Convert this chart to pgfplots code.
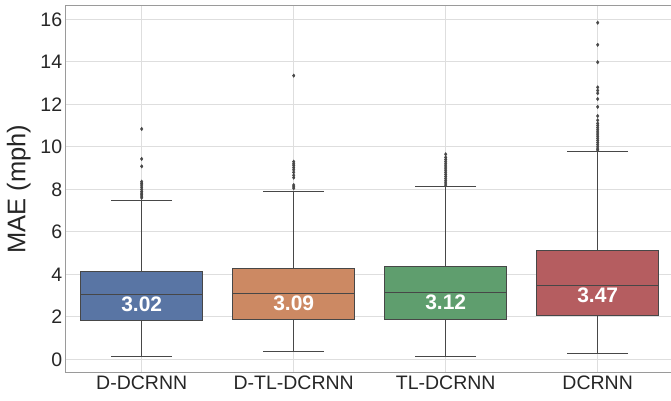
\documentclass[border=0pt]{standalone}
\usepackage{pgfplots}
\pgfplotsset{compat=1.18}
\usepgfplotslibrary{statistics}
\usepackage{fontspec}
\setmainfont{Liberation Sans}
\definecolor{cblue}{HTML}{5975A4}
\definecolor{corange}{HTML}{CC8963}
\definecolor{cgreen}{HTML}{5F9E6E}
\definecolor{cred}{HTML}{B55D60}
\definecolor{linegray}{HTML}{474747}
\definecolor{gridgray}{HTML}{DEDEDE}
\definecolor{spinegray}{HTML}{9A9A9A}
\definecolor{txt}{HTML}{262626}
\begin{document}
\begin{tikzpicture}
\begin{axis}[
  scale only axis,
  width=608pt, height=367pt,
  xmin=-0.5, xmax=3.5,
  ymin=-0.63, ymax=16.64,
  xtick={0,1,2,3},
  xticklabels={D-DCRNN,D-TL-DCRNN,TL-DCRNN,DCRNN},
  ytick={0,2,4,6,8,10,12,14,16},
  xmajorgrids, ymajorgrids,
  grid style={draw=gridgray, line width=0.9pt},
  major tick length=0pt,
  axis line style={draw=spinegray, line width=1.2pt},
  /pgf/number format/assume math mode=true,
  tick label style={font=\fontsize{19.5}{22}\selectfont, text=txt},
  ylabel={MAE (mph)},
  ylabel style={at={(axis description cs:-0.0773,0.5)}, anchor=center, font=\fontsize{25.5}{28}\selectfont, text=txt},
  boxplot/draw direction=y,
  boxplot/box extend=0.8,
  boxplot/whisker extend=0.4,
  every axis plot/.append style={line width=1.0pt, draw=linegray},
  mark options={fill=linegray, draw=linegray, line width=0.3pt},
]
\addplot[boxplot prepared={draw position=0, lower whisker=0.155, lower quartile=1.85, median=3.05, upper quartile=4.15, upper whisker=7.48},
  fill=cblue, mark=diamond*, mark size=1.8pt]
  table[row sep=\\, y index=0] {data\\ 10.84\\ 9.43\\ 9.08\\ 8.36\\ 8.28\\ 8.2\\ 8.1\\ 8.0\\ 7.9\\ 7.82\\ 7.75\\ 7.68\\ 7.6\\};
\addplot[boxplot prepared={draw position=1, lower whisker=0.39, lower quartile=1.88, median=3.10, upper quartile=4.28, upper whisker=7.92},
  fill=corange, mark=diamond*, mark size=1.8pt]
  table[row sep=\\, y index=0] {data\\ 13.35\\ 9.3\\ 9.2\\ 9.12\\ 9.02\\ 8.92\\ 8.8\\ 8.66\\ 8.55\\ 8.2\\ 8.12\\ 8.05\\};
\addplot[boxplot prepared={draw position=2, lower whisker=0.12, lower quartile=1.88, median=3.13, upper quartile=4.39, upper whisker=8.12},
  fill=cgreen, mark=diamond*, mark size=1.8pt]
  table[row sep=\\, y index=0] {data\\ 9.65\\ 9.5\\ 9.4\\ 9.3\\ 9.2\\ 9.1\\ 9.0\\ 8.9\\ 8.8\\ 8.7\\ 8.6\\ 8.5\\ 8.4\\ 8.3\\ 8.2\\};
\addplot[boxplot prepared={draw position=3, lower whisker=0.26, lower quartile=2.08, median=3.48, upper quartile=5.14, upper whisker=9.76},
  fill=cred, mark=diamond*, mark size=1.8pt]
  table[row sep=\\, y index=0] {data\\ 15.84\\ 14.8\\ 13.98\\ 12.8\\ 12.65\\ 12.52\\ 12.25\\ 11.88\\ 11.45\\ 11.25\\ 11.1\\ 11.0\\ 10.9\\ 10.8\\ 10.7\\ 10.6\\ 10.5\\ 10.4\\ 10.3\\ 10.2\\ 10.1\\ 10.0\\ 9.9\\ 9.85\\};
\node[font=\bfseries\fontsize{21}{24}\selectfont, text=white, yshift=-9.5pt] at (axis cs:0,3.05) {3.02};
\node[font=\bfseries\fontsize{21}{24}\selectfont, text=white, yshift=-9.5pt] at (axis cs:1,3.10) {3.09};
\node[font=\bfseries\fontsize{21}{24}\selectfont, text=white, yshift=-9.5pt] at (axis cs:2,3.13) {3.12};
\node[font=\bfseries\fontsize{21}{24}\selectfont, text=white, yshift=-9.5pt] at (axis cs:3,3.48) {3.47};
\end{axis}
\pgfresetboundingbox
\path ([shift={(-65.7pt,-27.3pt)}]current axis.south west) rectangle ++(671pt,400pt);
\end{tikzpicture}
\end{document}
